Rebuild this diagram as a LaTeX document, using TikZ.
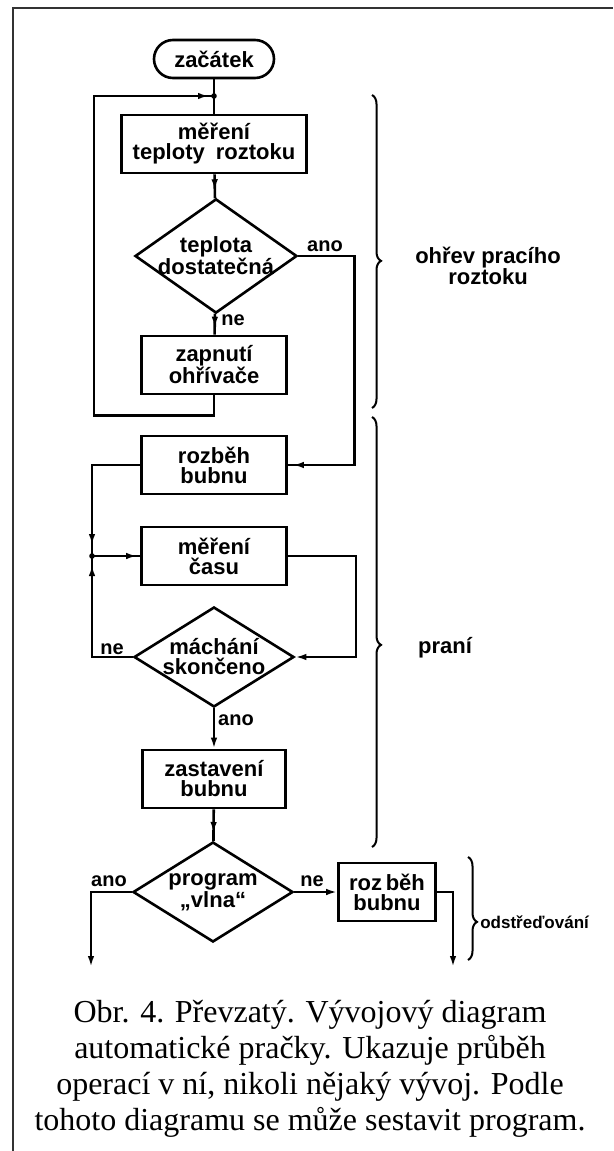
\documentclass[tikz,border=0pt]{standalone}
\usepackage{fontspec}
\setmainfont{Liberation Serif}
\setsansfont{Liberation Sans}
\usetikzlibrary{calc, arrows.meta, shapes.geometric, decorations.pathreplacing, decorations.markings}

\newcommand{\flowfont}{\sffamily\bfseries\fontsize{22}{20}\selectfont}
\newcommand{\lblfont}{\sffamily\bfseries\fontsize{20}{20}\selectfont}

\begin{document}
\begin{tikzpicture}[x=1pt, y=-1pt, line width=2.6pt,
    txt/.style={align=center, font=\flowfont},
    box/.style={draw, rectangle, minimum width=145pt, minimum height=58pt, inner sep=0pt, txt},
    decision/.style={draw, diamond, inner sep=-10pt, minimum width=160pt, minimum height=100pt, txt},
    lbl/.style={font=\lblfont, inner sep=1pt},
    arr/.style={-{Latex[length=11pt,width=6.5pt]}},
    midtip/.style={postaction=decorate, decoration={markings, mark=at position #1 with {\arrow{Latex[length=11pt,width=6.5pt]}}}},
    grp/.style={decorate, decoration={brace, amplitude=9pt, aspect=#1}, line width=2pt}]
    \useasboundingbox (0,0) rectangle (613,1151);

    % frame
    \draw[line width=1.6pt, black!80] (13,1151) -- (13,8) -- (613,8);

    % steps
    \node[draw, rounded corners=19pt, minimum width=120pt, minimum height=38pt, txt] (start) at (214,59) {začátek};
    \node[box, minimum width=185pt] (mer1) at (214,144) {měření\\teploty\enspace roztoku};
    \node[decision, minimum width=162pt, minimum height=98pt] (tepl) at (216,256) {teplota\\dostatečná};
    \node[box] (ohr) at (214,365) {zapnutí\\ohřívače};
    \node[box] (roz1) at (214,465) {rozběh\\bubnu};
    \node[box] (cas) at (214,556) {měření\\času};
    \node[decision] (mach) at (214,657) {máchání\\skončeno};
    \node[box, minimum width=143pt] (zast) at (214,779) {zastavení\\bubnu};
    \node[decision] (vlna) at (213,892) {program\\„vlna“};
    \node[box, minimum width=97pt] (roz2) at (387,892) {roz\,běh\\bubnu};

    \coordinate (j1) at (214,96);
    \coordinate (j2) at (92,556);
    \coordinate (endL) at (91,967);
    \coordinate (endR) at (453,967);

    % connectors
    \draw (start) -- (mer1);
    \draw[midtip=-5pt] (ohr.south) -- ++(0,20) -- ++(-120,0) |- (j1);
    \fill (j1) circle (2.8pt);
    \draw[midtip=-8pt] (mer1) -- (tepl);
    \draw[midtip=-7pt] (tepl) -- (ohr);
    \draw[midtip=-5pt] (tepl.east) -- ++(56,0) |- (roz1.east);
    \draw[midtip=-11pt] (roz1.west) -| (j2);
    \draw[midtip=-9pt] (mach.west) -| (j2);
    \fill (j2) circle (2.8pt);
    \draw[midtip=-3pt] (j2) -- (cas.west);
    \draw[arr] (cas.east) -- ++(68,0) |- (mach.east);
    \draw[arr] (mach) -- (zast);
    \draw[midtip=-8pt] (zast) -- (vlna);
    \draw[arr] (vlna.west) -| (endL);
    \draw[arr] (vlna) -- (roz2);
    \draw[arr] (roz2.east) -| (endR);

    % answers
    \node[lbl] (ano1) at (325,246) {ano};
    \node[lbl] (ne1) at (233,320) {ne};
    \node[lbl] (ne2) at (112,649) {ne};
    \node[lbl] (ano2) at (236,720) {ano};
    \node[lbl] (ano3) at (109,881) {ano};
    \node[lbl] (ne3) at (312,881) {ne};

    % phases
    \draw[grp=0.53] (372,95) -- (372,408);
    \draw[grp=0.53] (372,417) -- (372,847);
    \draw[grp=0.63] (468,857) -- (468,960);
    \node[txt] (ohrev) at (488,266) {ohřev pracího\\roztoku};
    \node[txt] (prani) at (445,648) {praní};
    \node[txt, anchor=west, font=\sffamily\bfseries\fontsize{17}{17}\selectfont, inner sep=0pt] (odst) at (479,922) {odstřeďování};

    % caption
    \node[font=\fontsize{32}{36}\selectfont, align=center] (capt) at (310,1069) {Obr. 4. Převzatý. Vývojový diagram\\automatické pračky. Ukazuje průběh\\operací v ní, nikoli nějaký vývoj. Podle\\tohoto diagramu se může sestavit program.};
\end{tikzpicture}
\end{document}
